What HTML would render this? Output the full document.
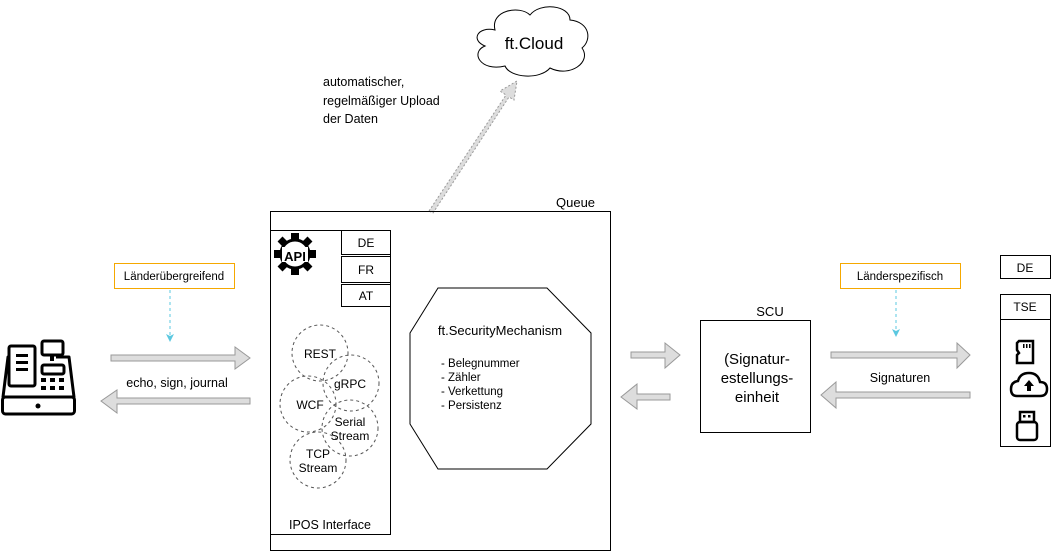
<!DOCTYPE html>
<html><head><meta charset="utf-8"><style>
html,body{margin:0;padding:0;background:#fff;}
svg{display:block;font-family:"Liberation Sans",sans-serif;}
</style></head><body>
<svg width="1051" height="552" viewBox="0 0 1051 552" xmlns="http://www.w3.org/2000/svg">
<defs>
<marker id="cy" markerWidth="8" markerHeight="8" refX="4" refY="4" orient="auto" markerUnits="userSpaceOnUse"><path d="M0,0 L8,4 L0,8 L2,4 Z" fill="#5bc8e0"/></marker>
</defs>
<!-- cloud -->
<path d="M495,30 C490,10 520,5 530,15 C540,2 570,5 570,20 C590,22 592,40 582,48 C592,62 570,78 550,68 C540,80 510,78 505,66 C480,72 470,52 485,46 C470,40 478,26 495,30 Z" fill="#fff" stroke="#000" stroke-width="1"/>
<text x="534" y="49" font-size="17" text-anchor="middle">ft.Cloud</text>
<!-- upload arrow -->
<path d="M429,211 L506,95 L500,91 L517,81 L514,100 L509,97 L433,213 Z" fill="#ddd" stroke="#999" stroke-width="1" stroke-dasharray="2,2"/>
<text font-size="12.5" x="323" y="86">automatischer,</text>
<text font-size="12.5" x="323" y="105">regelmäßiger Upload</text>
<text font-size="12.5" x="323" y="123">der Daten</text>
<!-- queue -->
<text x="556" y="207" font-size="13">Queue</text>
<rect x="270.5" y="211.5" width="340" height="339" fill="none" stroke="#000"/>
<rect x="270.5" y="230.5" width="120" height="304" fill="none" stroke="#000"/>
<rect x="341.5" y="230.5" width="49" height="24" fill="#fff" stroke="#000"/>
<rect x="341.5" y="256.5" width="49" height="26" fill="#fff" stroke="#000"/>
<rect x="341.5" y="284.5" width="49" height="22" fill="#fff" stroke="#000"/>
<text x="366" y="247" font-size="12" text-anchor="middle">DE</text>
<text x="366" y="274" font-size="12" text-anchor="middle">FR</text>
<text x="366" y="300" font-size="12" text-anchor="middle">AT</text>
<!-- API gear -->
<g fill="none" stroke="#000" stroke-width="3">
<circle cx="295" cy="254" r="14"/>
</g>
<g fill="#000">
<rect x="291" y="233" width="8" height="6"/><rect x="291" y="269" width="8" height="6"/>
<rect x="274" y="250" width="6" height="8"/><rect x="310" y="250" width="6" height="8"/>
<rect x="279" y="238" width="7" height="7" transform="rotate(45 282.5 241.5)"/>
<rect x="304" y="238" width="7" height="7" transform="rotate(45 307.5 241.5)"/>
<rect x="279" y="263" width="7" height="7" transform="rotate(45 282.5 266.5)"/>
<rect x="304" y="263" width="7" height="7" transform="rotate(45 307.5 266.5)"/>
</g>
<rect x="282" y="247" width="26" height="15" fill="#fff"/>
<text x="295" y="261" font-size="13" font-weight="bold" text-anchor="middle">API</text>
<!-- circles -->
<g fill="none" stroke="#555" stroke-dasharray="3,3">
<circle cx="320" cy="353" r="28"/><circle cx="351" cy="383" r="28"/><circle cx="308" cy="404" r="28"/><circle cx="350" cy="428" r="28"/><circle cx="318" cy="460" r="28"/>
</g>
<g font-size="12" text-anchor="middle">
<text x="320" y="358">REST</text><text x="350" y="388">gRPC</text><text x="310" y="409">WCF</text>
<text x="350" y="426">Serial</text><text x="350" y="440">Stream</text>
<text x="318" y="458">TCP</text><text x="318" y="472">Stream</text>
</g>
<text x="330" y="529" font-size="12.5" text-anchor="middle">IPOS Interface</text>
<!-- octagon -->
<polygon points="438,288 547,288 591,333 591,424 547,469 438,469 410,424 410,333" fill="none" stroke="#000"/>
<text x="500" y="335" font-size="13" text-anchor="middle">ft.SecurityMechanism</text>
<g font-size="11.5"><text x="441" y="367">- Belegnummer</text><text x="441" y="381">- Zähler</text><text x="441" y="395">- Verkettung</text><text x="441" y="409">- Persistenz</text></g>
<!-- cash register -->
<g fill="none" stroke="#000" stroke-width="3" stroke-linejoin="round">
<path d="M12,357 L8,357 L3,397 L74,397 L69,357 L56,357"/>
<rect x="2.5" y="397" width="72" height="17" rx="3"/>
<rect x="9" y="346" width="26" height="40" rx="2" fill="#fff"/>
<rect x="42" y="341" width="21" height="14" rx="2"/>
<rect x="42" y="365" width="22" height="9" rx="2"/>
</g>
<g fill="#000">
<rect x="16" y="354" width="12" height="3"/><rect x="16" y="361" width="12" height="3"/><rect x="16" y="368" width="12" height="3"/>
<rect x="50" y="355" width="4" height="6"/>
<rect x="41" y="378" width="5" height="4"/><rect x="50" y="378" width="5" height="4"/><rect x="59" y="378" width="5" height="4"/>
<rect x="41" y="386" width="5" height="4"/><rect x="50" y="386" width="5" height="4"/><rect x="59" y="386" width="5" height="4"/>
<circle cx="38" cy="406" r="2.5"/>
</g>
<!-- Länderübergreifend -->
<rect x="114.5" y="263.5" width="120" height="25" fill="#fff" stroke="#f5a800"/>
<text x="174" y="280" font-size="11.5" text-anchor="middle">Länderübergreifend</text>
<line x1="170" y1="290" x2="170" y2="338" stroke="#5bc8e0" stroke-dasharray="3,3" marker-end="url(#cy)"/>
<!-- arrows -->
<g fill="#ddd" stroke="#999">
<path d="M111,355 L235,355 L235,347 L250,358 L235,369 L235,361 L111,361 Z"/>
<path d="M250,398 L117,398 L117,390 L101,401 L117,413 L117,404 L250,404 Z"/>
<path d="M631,352 L665,352 L665,343 L680,355 L665,368 L665,358 L631,358 Z"/>
<path d="M670,394 L637,394 L637,384 L621,397 L637,409 L637,400 L670,400 Z"/>
<path d="M831,352 L957,352 L957,343 L970,355 L957,368 L957,358 L831,358 Z"/>
<path d="M970,392 L836,392 L836,382 L821,395 L836,408 L836,398 L970,398 Z"/>
</g>
<text x="177" y="387" font-size="12.5" text-anchor="middle">echo, sign, journal</text>
<!-- SCU -->
<text x="770" y="316" font-size="13" text-anchor="middle">SCU</text>
<rect x="700.5" y="320.5" width="110" height="112" fill="none" stroke="#000"/>
<g font-size="15" text-anchor="middle"><text x="757" y="364">(Signatur-</text><text x="757" y="383">estellungs-</text><text x="757" y="402">einheit</text></g>
<!-- Länderspezifisch -->
<rect x="840.5" y="263.5" width="120" height="25" fill="#fff" stroke="#f5a800"/>
<text x="900" y="280" font-size="11.5" text-anchor="middle">Länderspezifisch</text>
<line x1="896" y1="290" x2="896" y2="333" stroke="#5bc8e0" stroke-dasharray="3,3" marker-end="url(#cy)"/>
<text x="900" y="382" font-size="12.5" text-anchor="middle">Signaturen</text>
<!-- DE / TSE -->
<rect x="1000.5" y="255.5" width="50" height="23" fill="none" stroke="#000"/>
<text x="1025" y="272" font-size="12" text-anchor="middle">DE</text>
<rect x="1000.5" y="294.5" width="50" height="152" fill="none" stroke="#000"/>
<line x1="1000" y1="319.5" x2="1051" y2="319.5" stroke="#000"/>
<text x="1025" y="311" font-size="12" text-anchor="middle">TSE</text>
<path d="M1019,341 L1033,341 L1033,363 L1017,363 L1017,355 L1019,353 L1017,350 L1017,343 Z" fill="none" stroke="#000" stroke-width="2.5"/>
<g fill="#000"><rect x="1023" y="344" width="1.5" height="4"/><rect x="1026" y="344" width="1.5" height="4"/><rect x="1029" y="344" width="1.5" height="4"/></g>
<path d="M1017,396 L1040,396 Q1047,396 1047,389 Q1047,382 1040,382 Q1038,373 1029,373 Q1020,373 1018,381 Q1011,382 1011,389 Q1011,396 1017,396 Z" fill="none" stroke="#000" stroke-width="2.5"/>
<path d="M1029,380 L1034,386 L1031,386 L1031,391 L1027,391 L1027,386 L1024,386 Z" fill="#000"/>
<rect x="1020" y="412" width="14" height="10" fill="none" stroke="#000" stroke-width="2.5"/>
<rect x="1023" y="415" width="2.5" height="2.5" fill="#000"/><rect x="1028" y="415" width="2.5" height="2.5" fill="#000"/>
<rect x="1017" y="422" width="20" height="18" rx="3" fill="none" stroke="#000" stroke-width="2.5"/>
</svg>
</body></html>
